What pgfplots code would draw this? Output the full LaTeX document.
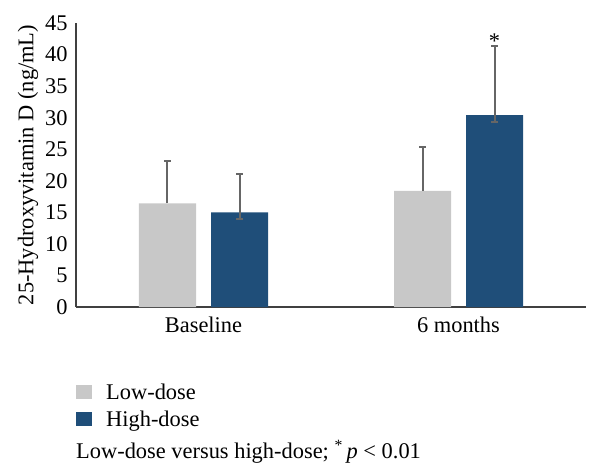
\documentclass[border=0pt]{standalone}
\usepackage{fontspec}
\setmainfont{Liberation Serif}
\usepackage{pgfplots}
\pgfplotsset{compat=1.18}
\definecolor{lowc}{HTML}{C8C8C8}
\definecolor{highc}{HTML}{1F4E79}
\definecolor{errc}{HTML}{666666}
\definecolor{axc}{HTML}{404040}
\begin{document}
\begin{tikzpicture}[font=\fontsize{22.5}{27}\selectfont]
\useasboundingbox (-76bp,-163bp) rectangle (524bp,307bp);
\begin{axis}[
  at={(0,0)}, anchor=south west,
  width=510bp, height=284bp, scale only axis,
  xmin=-0.5, xmax=1.5, ymin=0, ymax=45,
  ytick={0,5,...,45},
  xtick={0,1}, xticklabels={Baseline, 6 months},
  major tick length=0pt,
  axis x line=bottom, axis y line=left,
  axis line style={-, axc, line width=1.5bp},
  /pgf/number format/assume math mode=true,
  yticklabel style={font=\fontsize{22.5}{27}\selectfont, xshift=-5bp},
  xticklabel style={font=\fontsize{22.5}{27}\selectfont, yshift=-6bp},
  ylabel={25-Hydroxyvitamin D (ng/mL)},
  ylabel style={font=\fontsize{22.5}{27}\selectfont, at={(axis description cs:-0.094,0.5)}, anchor=center, rotate=0},
  ybar, bar width=57bp,
  legend style={at={(0,-0.265)}, anchor=north west, draw=none, fill=none,
    inner sep=0pt, row sep=8bp, font=\fontsize{22.5}{27}\selectfont,
    nodes={inner xsep=14bp, inner ysep=1bp}},
  legend cell align=left,
  legend image code/.code={\fill[#1] (0bp,-7bp) rectangle (16bp,7bp);},
]
\addplot[fill=lowc, draw=none, bar shift=-36bp,
  error bars/.cd, y dir=plus, y explicit,
  error bar style={draw=errc, line width=2bp},
  error mark options={draw=errc, line width=2bp, mark size=3.5bp, rotate=90}]
  coordinates {(0,16.4) += (0,6.8) -= (0,0)
               (1,18.4) += (0,7.0) -= (0,0)};
\addlegendentry{Low-dose}
\addplot[fill=highc, draw=none, bar shift=36bp,
  error bars/.cd, y dir=both, y explicit,
  error bar style={draw=errc, line width=2bp},
  error mark options={draw=errc, line width=2bp, mark size=3.5bp, rotate=90}]
  coordinates {(0,15.0) += (0,6.0) -= (0,1.0)
               (1,30.4) += (0,10.9) -= (0,1.1)};
\addlegendentry{High-dose}
\node[anchor=base, inner sep=0pt, xshift=36bp, yshift=-2bp] at (axis cs:1,41.3) {*};
\end{axis}
\node[anchor=base west, inner sep=0pt] at (0bp,-151bp) {Low-dose versus high-dose; \textsuperscript{*}\,\textit{p} < 0.01};
\end{tikzpicture}
\end{document}
